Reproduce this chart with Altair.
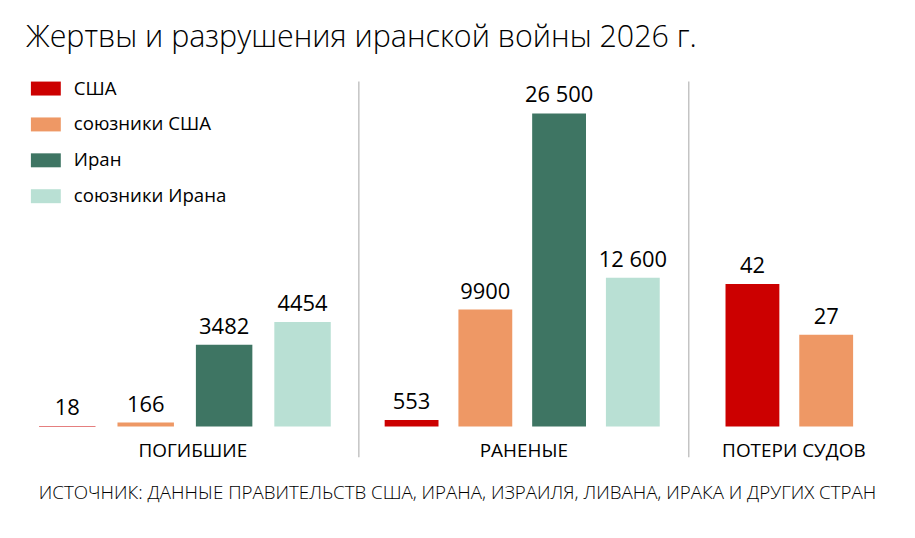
import altair as alt
import pandas as pd

# Series and categories
groups = ["США", "союзники США", "Иран", "союзники Ирана"]
colors = ["#cc0000", "#ee9865", "#3e7563", "#b9e0d4"]
categories = ["ПОГИБШИЕ", "РАНЕНЫЕ", "ПОТЕРИ СУДОВ"]

killed = [18, 166, 3482, 4454]
wounded = [553, 9900, 26500, 12600]
ships_lost = [42, 27]          # США, союзники США

title_text = "Жертвы и разрушения иранской войны 2026 г."
source_text = "ИСТОЧНИК: ДАННЫЕ ПРАВИТЕЛЬСТВ США, ИРАНА, ИЗРАИЛЯ, ЛИВАНА, ИРАКА И ДРУГИХ СТРАН"

FONT = "Open Sans"
PLOT_H = 346


def fmt(v):
    # thousands separated by a space from five digits on
    return f"{v:,}".replace(",", " ") if v >= 10000 else str(v)


def frame(values):
    g = groups[: len(values)]
    return pd.DataFrame({"group": g, "value": values, "label": [fmt(v) for v in values]})


legend = alt.Legend(
    title=None,
    orient="none",
    legendX=4,
    legendY=-8,
    symbolType="M-1,-0.467L1,-0.467L1,0.467L-1,0.467Z",
    symbolSize=900,
    symbolStrokeWidth=0,
    symbolOpacity=1,
    labelFont=FONT,
    labelFontSize=18.7,
    labelColor="#000000",
    labelOffset=13,
    rowPadding=11,
)


def panel(values, name, width, ymax, pad_inner, pad_outer, align, divider):
    df = frame(values)
    order = groups[: len(values)]
    x = alt.X(
        "group:N",
        sort=order,
        scale=alt.Scale(paddingInner=pad_inner, paddingOuter=pad_outer, align=align),
        axis=alt.Axis(
            title=name,
            labels=False,
            ticks=False,
            domain=False,
            titleFont=FONT,
            titleFontSize=19,
            titleFontWeight="normal",
            titleColor="#000000",
            titlePadding=15,
        ),
    )
    y = alt.Y("value:Q", scale=alt.Scale(domain=[0, ymax], nice=False), axis=None)
    base = alt.Chart(df)
    bars = base.mark_bar().encode(
        x=x,
        y=y,
        color=alt.Color("group:N", scale=alt.Scale(domain=groups, range=colors), legend=legend),
    )
    labels = base.mark_text(
        font=FONT, fontSize=22, dy=-11, baseline="alphabetic", color="#000000"
    ).encode(x=x, y=y, text="label:N")
    layers = [bars, labels]
    if divider:
        rule = alt.Chart(pd.DataFrame({"d": [0]})).mark_rule(
            color="#c4c4c4", strokeWidth=1.5
        ).encode(x=alt.value(0), y=alt.value(0), y2=alt.value(377))
        layers.insert(0, rule)
    return alt.layer(*layers).properties(width=width, height=PLOT_H)


p1 = panel(killed, categories[0], 332, 14700, 0.28, 0.25, 0.31, False)
p2 = panel(wounded, categories[1], 330, 29200, 0.27, 0.365, 0.48, True)
p3 = panel(ships_lost, categories[2], 210, 101.6, 0.27, 0.554, 0.45, True)

inner = alt.hconcat(p1, p2, p3, spacing=0).properties(
    title=alt.TitleParams(
        source_text,
        orient="bottom",
        anchor="middle",
        font=FONT,
        fontSize=18.8,
        fontWeight=300,
        color="#000000",
        offset=24,
        dx=-5,
    )
)

chart = (
    alt.vconcat(inner, spacing=0)
    .properties(
        title=alt.TitleParams(
            title_text,
            anchor="start",
            font=FONT,
            fontSize=30.5,
            fontWeight=300,
            color="#000000",
            dx=-1,
            offset=20,
        ),
        padding={"left": 26, "top": 22, "right": 17, "bottom": 10},
    )
    .configure_view(stroke=None)
)

chart.save("out.html", embed_options={"renderer": "svg", "actions": False})
